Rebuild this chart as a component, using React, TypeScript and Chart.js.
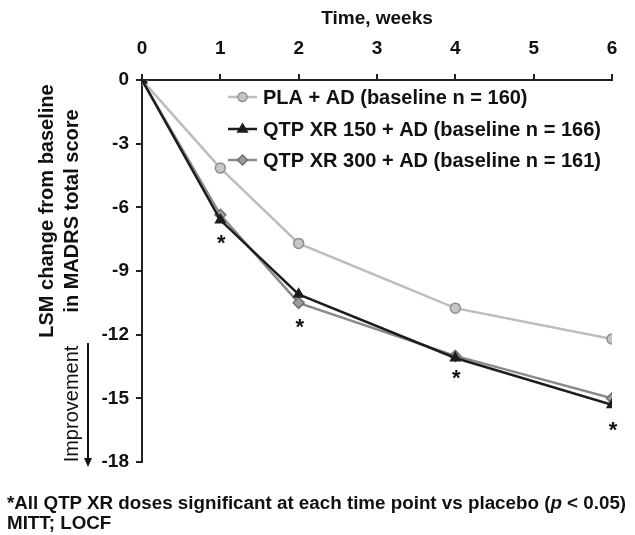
import React, { useEffect, useRef } from "react";
import { Chart, registerables } from "chart.js";

Chart.register(...registerables);

const weeks = [0, 1, 2, 4, 6];
const plaValues = [0, -4.15, -7.7, -10.75, -12.2];
const qtp150Values = [0, -6.6, -10.1, -13.1, -15.3];
const qtp300Values = [0, -6.35, -10.5, -13.0, -15.0];
const starWeeks = [1, 2, 4, 6];
const starValues = [-7.5, -11.45, -13.85, -16.3];
const seriesLabels = [
  "PLA + AD (baseline n = 160)",
  "QTP XR 150 + AD (baseline n = 166)",
  "QTP XR 300 + AD (baseline n = 161)",
];
const xTitle = "Time, weeks";
const yTitleLines = ["LSM change from baseline", "in MADRS total score"];
const improvementText = "Improvement";

const FONT = "'Liberation Sans', Arial, sans-serif";

const toPts = (vals: number[]) => vals.map((v, i) => ({ x: weeks[i], y: v }));

const styles = [
  { line: "#bdbdbd", fill: "#c6c6c6", border: "#8e8e8e", point: "circle", radius: 5 },
  { line: "#1c1c1c", fill: "#1c1c1c", border: "#1c1c1c", point: "triangle", radius: 5.5 },
  { line: "#8a8a8a", fill: "#9c9c9c", border: "#707070", point: "rectRot", radius: 5.5 },
];

function marker(ctx: CanvasRenderingContext2D, kind: string, x: number, y: number, r: number) {
  ctx.beginPath();
  if (kind === "circle") {
    ctx.arc(x, y, r, 0, Math.PI * 2);
  } else if (kind === "triangle") {
    ctx.moveTo(x, y - r);
    ctx.lineTo(x + r * 0.95, y + r * 0.6);
    ctx.lineTo(x - r * 0.95, y + r * 0.6);
  } else {
    ctx.moveTo(x, y - r);
    ctx.lineTo(x + r, y);
    ctx.lineTo(x, y + r);
    ctx.lineTo(x - r, y);
  }
  ctx.closePath();
  ctx.fill();
  ctx.stroke();
}

const overlayPlugin = {
  id: "overlay",
  afterDatasetsDraw(chart: any) {
    const ctx = chart.ctx;
    const xs = chart.scales.x;
    const ys = chart.scales.y;
    ctx.save();
    // asterisks
    ctx.fillStyle = "#111";
    ctx.font = `bold 22px ${FONT}`;
    ctx.textAlign = "center";
    ctx.textBaseline = "middle";
    starWeeks.forEach((w, i) => {
      ctx.fillText("*", xs.getPixelForValue(w) + 1, ys.getPixelForValue(starValues[i]) + 5);
    });
    // legend
    const lx0 = 228, lx1 = 257, tx = 263;
    const ly = [97, 129, 160];
    seriesLabels.forEach((lab, i) => {
      const s = styles[i];
      ctx.strokeStyle = s.line;
      ctx.lineWidth = 2.5;
      ctx.beginPath();
      ctx.moveTo(lx0, ly[i]);
      ctx.lineTo(lx1, ly[i]);
      ctx.stroke();
      ctx.fillStyle = s.fill;
      ctx.strokeStyle = s.border;
      ctx.lineWidth = 1.5;
      marker(ctx, s.point, (lx0 + lx1) / 2, ly[i], s.radius - 0.5);
      ctx.fillStyle = "#111";
      ctx.font = `bold 20px ${FONT}`;
      ctx.textAlign = "left";
      ctx.textBaseline = "middle";
      ctx.fillText(lab, tx, ly[i] + 1);
    });
    // y title
    ctx.fillStyle = "#111";
    ctx.textAlign = "center";
    ctx.textBaseline = "middle";
    ctx.save();
    ctx.translate(47, 211);
    ctx.rotate(-Math.PI / 2);
    ctx.font = `bold 20px ${FONT}`;
    ctx.fillText(yTitleLines[0], 0, 0);
    ctx.restore();
    ctx.save();
    ctx.translate(72, 211);
    ctx.rotate(-Math.PI / 2);
    ctx.font = `bold 20px ${FONT}`;
    ctx.fillText(yTitleLines[1], 0, 0);
    ctx.restore();
    ctx.save();
    ctx.translate(72, 404);
    ctx.rotate(-Math.PI / 2);
    ctx.font = `20px ${FONT}`;
    ctx.fillText(improvementText, 0, 0);
    ctx.restore();
    // arrow
    ctx.strokeStyle = "#111";
    ctx.lineWidth = 2;
    ctx.beginPath();
    ctx.moveTo(88, 343);
    ctx.lineTo(88, 460);
    ctx.stroke();
    ctx.beginPath();
    ctx.moveTo(84, 458);
    ctx.lineTo(92, 458);
    ctx.lineTo(88, 467);
    ctx.closePath();
    ctx.fill();
    ctx.restore();
  },
};

export default function App() {
  const ref = useRef<HTMLCanvasElement>(null);
  useEffect(() => {
    if (!ref.current) return;
    const seriesData = [plaValues, qtp150Values, qtp300Values];
    const orders = [3, 1, 2];
    const chart = new Chart(ref.current, {
      type: "line",
      data: {
        datasets: seriesData.map((vals, i) => ({
          label: seriesLabels[i],
          data: toPts(vals),
          borderColor: styles[i].line,
          backgroundColor: styles[i].fill,
          pointBackgroundColor: styles[i].fill,
          pointBorderColor: styles[i].border,
          pointBorderWidth: 1.5,
          pointStyle: styles[i].point as any,
          pointRadius: styles[i].radius,
          borderWidth: 2.5,
          tension: 0,
          order: orders[i],
        })),
      },
      options: {
        animation: false,
        responsive: false,
        layout: { padding: { left: 0, top: 0, right: 23, bottom: 73 } },
        plugins: { legend: { display: false }, tooltip: { enabled: false } },
        scales: {
          x: {
            type: "linear",
            position: "top",
            min: 0,
            max: 6,
            ticks: { stepSize: 1, color: "#111", font: { family: FONT, size: 19, weight: "bold" }, padding: 14 },
            grid: { drawOnChartArea: false, drawTicks: true, tickLength: 6, color: "#222", lineWidth: 2 },
            border: { display: true, color: "#222", width: 2 },
            title: {
              display: true,
              text: xTitle,
              color: "#111",
              font: { family: FONT, size: 19, weight: "bold" },
              padding: { top: 7, bottom: 0 },
            },
            afterFit: (s: any) => {
              s.height = 80;
            },
          },
          y: {
            type: "linear",
            min: -18,
            max: 0,
            ticks: {
              stepSize: 3,
              color: "#111",
              font: { family: FONT, size: 19, weight: "bold" },
              padding: 7,
              callback: (v: any) => String(v),
            },
            grid: { drawOnChartArea: false, drawTicks: true, tickLength: 6, color: "#222", lineWidth: 2 },
            border: { display: true, color: "#222", width: 2 },
            afterFit: (s: any) => {
              s.width = 142;
            },
          },
        },
      },
      plugins: [overlayPlugin],
    });
    return () => chart.destroy();
  }, []);

  return (
    <div style={{ position: "fixed", left: 0, top: 0, width: 635, height: 535, background: "#fff" }}>
      <canvas ref={ref} width={635} height={535} style={{ display: "block" }} />
      <div
        style={{
          position: "absolute",
          left: 7,
          top: 493,
          fontFamily: FONT,
          fontWeight: "bold",
          fontSize: 18.8,
          lineHeight: "20px",
          color: "#111",
          whiteSpace: "nowrap",
        }}
      >
        <div>
          *All QTP XR doses significant at each time point vs placebo (<i>p</i> &lt; 0.05)
        </div>
        <div>MITT; LOCF</div>
      </div>
    </div>
  );
}
